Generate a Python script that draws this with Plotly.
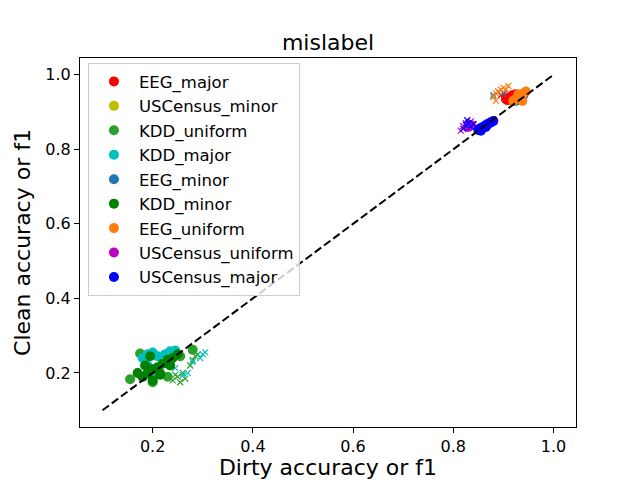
import plotly.graph_objects as go

names = ["EEG_major", "USCensus_minor", "KDD_uniform", "KDD_major", "EEG_minor",
         "KDD_minor", "EEG_uniform", "USCensus_uniform", "USCensus_major"]
colors = ["#ff0000", "#bfbf00", "#2ca02c", "#00bfbf", "#1f77b4",
          "#008000", "#ff7f0e", "#bf00bf", "#0000ff"]

# circle markers (labelled) per series
circ_x = {
    "EEG_major": [0.905, 0.912, 0.918, 0.915, 0.922, 0.908, 0.925],
    "USCensus_minor": [0.855, 0.862, 0.868],
    "KDD_uniform": [0.155, 0.175, 0.185, 0.215, 0.245, 0.28, 0.255, 0.23, 0.2],
    "KDD_major": [0.18, 0.19, 0.2, 0.21, 0.225, 0.235, 0.245, 0.19, 0.205, 0.18, 0.2],
    "EEG_minor": [0.925, 0.93, 0.935, 0.94],
    "KDD_minor": [0.18, 0.19, 0.2, 0.21, 0.22, 0.23, 0.24, 0.25, 0.185, 0.2, 0.215, 0.235, 0.195, 0.17],
    "EEG_uniform": [0.92, 0.925, 0.93, 0.935, 0.94, 0.945, 0.93, 0.938],
    "USCensus_uniform": [0.83, 0.835],
    "USCensus_major": [0.85, 0.853, 0.857, 0.86, 0.864, 0.868, 0.872, 0.876, 0.88, 0.855, 0.865],
}
circ_y = {
    "EEG_major": [0.935, 0.940, 0.945, 0.938, 0.942, 0.932, 0.948],
    "USCensus_minor": [0.858, 0.862, 0.866],
    "KDD_uniform": [0.183, 0.252, 0.235, 0.2, 0.25, 0.262, 0.245, 0.19, 0.175],
    "KDD_major": [0.24, 0.25, 0.255, 0.245, 0.25, 0.258, 0.26, 0.22, 0.2, 0.19, 0.185],
    "EEG_minor": [0.93, 0.935, 0.94, 0.945],
    "KDD_minor": [0.19, 0.2, 0.21, 0.215, 0.225, 0.235, 0.24, 0.25, 0.22, 0.18, 0.195, 0.22, 0.245, 0.2],
    "EEG_uniform": [0.93, 0.935, 0.94, 0.945, 0.95, 0.955, 0.948, 0.93],
    "USCensus_uniform": [0.86, 0.865],
    "USCensus_major": [0.852, 0.855, 0.858, 0.86, 0.864, 0.867, 0.87, 0.873, 0.876, 0.85, 0.86],
}
# cross markers (unlabelled) per series
cross_x = {
    "EEG_major": [0.895, 0.902, 0.91],
    "USCensus_minor": [0.83, 0.835],
    "KDD_uniform": [0.24, 0.25, 0.26, 0.265, 0.275, 0.28, 0.285, 0.29, 0.255, 0.245],
    "KDD_major": [0.245, 0.26, 0.27, 0.295, 0.3, 0.305, 0.28],
    "EEG_minor": [0.88, 0.89, 0.9],
    "KDD_minor": [],
    "EEG_uniform": [0.88, 0.885, 0.89, 0.895, 0.9, 0.905, 0.91, 0.885],
    "USCensus_uniform": [0.815, 0.82, 0.825, 0.83, 0.835, 0.84],
    "USCensus_major": [0.82, 0.825, 0.83, 0.835, 0.84, 0.828],
}
cross_y = {
    "EEG_major": [0.945, 0.95, 0.94],
    "USCensus_minor": [0.86, 0.865],
    "KDD_uniform": [0.18, 0.19, 0.2, 0.185, 0.22, 0.235, 0.245, 0.25, 0.175, 0.195],
    "KDD_major": [0.213, 0.195, 0.2, 0.24, 0.25, 0.255, 0.23],
    "EEG_minor": [0.945, 0.955, 0.95],
    "KDD_minor": [],
    "EEG_uniform": [0.94, 0.95, 0.955, 0.96, 0.965, 0.96, 0.97, 0.93],
    "USCensus_uniform": [0.85, 0.862, 0.87, 0.858, 0.875, 0.866],
    "USCensus_major": [0.855, 0.865, 0.87, 0.86, 0.868, 0.878],
}
diag = [0.1, 1.0]

fig = go.Figure()
for name, col in zip(names, colors):
    fig.add_trace(go.Scatter(x=circ_x[name], y=circ_y[name], mode="markers", name=name,
                             marker=dict(symbol="circle", size=10, color=col, line=dict(width=0))))
    if cross_x[name]:
        fig.add_trace(go.Scatter(x=cross_x[name], y=cross_y[name], mode="markers", showlegend=False,
                                 marker=dict(symbol="x-thin", size=6, color=col,
                                             line=dict(width=1.2, color=col))))
fig.add_trace(go.Scatter(x=diag, y=diag, mode="lines", showlegend=False,
                         line=dict(color="black", width=2, dash="8px,3.5px")))

axis_common = dict(range=[0.055, 1.045], showgrid=False, zeroline=False, showline=True,
                   linecolor="black", linewidth=1, mirror=True, ticks="outside", ticklen=5,
                   tickcolor="black", tickvals=[0.2, 0.4, 0.6, 0.8, 1.0],
                   ticktext=["0.2", "0.4", "0.6", "0.8", "1.0"], automargin=False,
                   tickfont=dict(size=16, color="black"))
fig.update_xaxes(**axis_common, title=dict(text="Dirty accuracy or f1", font=dict(size=22, color="black"), standoff=6))
fig.update_yaxes(**axis_common, title=dict(text="Clean accuracy or f1", font=dict(size=22, color="black"), standoff=8))

fig.update_layout(
    width=640, height=480,
    margin=dict(l=80, r=64, t=58, b=53),
    paper_bgcolor="white", plot_bgcolor="white",
    font=dict(family="DejaVu Sans", color="black"),
    title=dict(text="mislabel", x=0.5, xref="paper", xanchor="center", y=1 - 42 / 480, yanchor="middle",
               font=dict(size=22, color="black")),
    legend=dict(x=0.016, y=0.986, xanchor="left", yanchor="top", bgcolor="rgba(255,255,255,0.8)",
                bordercolor="#cccccc", borderwidth=1, font=dict(size=16.5, color="black"),
                itemwidth=40),
)
fig.write_html("out.html")
